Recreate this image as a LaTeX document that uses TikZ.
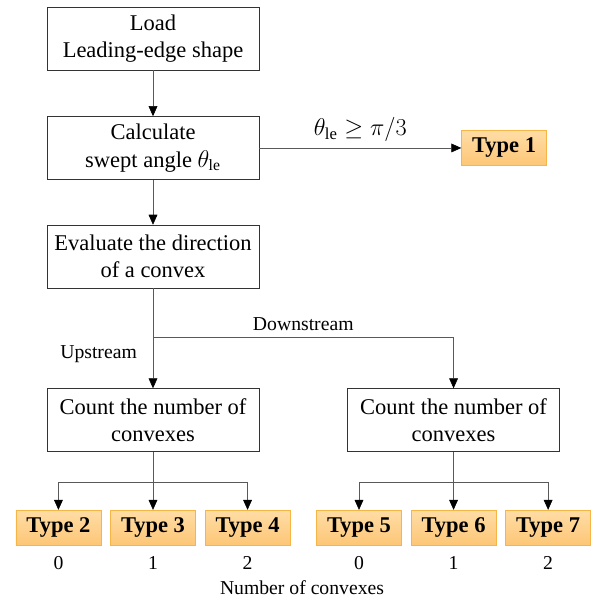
\documentclass[tikz,border=0pt]{standalone}
\usepackage{fontspec}
\setmainfont{Liberation Serif}
\usepackage{tikz}
\usetikzlibrary{positioning,arrows.meta}
\definecolor{typetop}{HTML}{FFDDA6}
\definecolor{typebot}{HTML}{FDC676}
\definecolor{typeline}{HTML}{F6B545}

\begin{document}
\begin{tikzpicture}[
  proc/.style={draw=black!80, minimum width=5.3cm, minimum height=1.575cm,
               align=center, inner sep=0pt,
               font=\fontsize{16}{19.5}\selectfont},
  typebox/.style={draw=typeline, top color=typetop, bottom color=typebot,
                  minimum width=2.125cm, minimum height=0.875cm, inner sep=0pt,
                  font=\fontsize{16}{19.5}\selectfont\bfseries},
  link/.style={draw=black!65, -{Triangle[length=2.5mm, width=2.2mm, color=black]}},
  lbl/.style={font=\fontsize{14}{17}\selectfont},
  ]
  \useasboundingbox (0,0) rectangle (14.85,-15);

  % main column
  \node[proc] (load) at (3.825,-0.96) {Load\\Leading-edge shape};
  \node[proc, below=1.15cm of load] (angle) {Calculate\\swept angle $\theta_{\mathrm{le}}$};
  \node[proc, below=1.125cm of angle] (dir) {Evaluate the direction\\of a convex};
  \node[proc, below=2.5cm of dir] (countup) {Count the number of\\convexes};
  \node[proc, right=2.2cm of countup] (countdown) {Count the number of\\convexes};

  \node[typebox, right=5.05cm of angle] (type1) {Type 1};

  % types by number of convexes
  \node[typebox, below=1.45cm of countup] (type3) {Type 3};
  \node[typebox, left=0.225cm of type3] (type2) {Type 2};
  \node[typebox, right=0.225cm of type3] (type4) {Type 4};
  \node[typebox, below=1.45cm of countdown] (type6) {Type 6};
  \node[typebox, left=0.225cm of type6] (type5) {Type 5};
  \node[typebox, right=0.225cm of type6] (type7) {Type 7};

  \foreach \t/\n in {2/0,3/1,4/2,5/0,6/1,7/2}
    \node[lbl] (num\t) at ([yshift=-0.45cm]type\t.south) {\n};
  \node[lbl] (axis) at (7.55,-14.7) {Number of convexes};

  % connectors
  \draw[link] (load) -- (angle);
  \draw[link] (angle) -- node[lbl, font=\fontsize{17}{20}\selectfont, above=1pt]
    {$\theta_{\mathrm{le}}\geq\pi/3$} (type1);
  \draw[link] (angle) -- (dir);
  \draw[link] (dir) -- node[lbl, pos=0.66, anchor=east, xshift=-0.28cm] {Upstream} (countup);
  \coordinate (split) at ([yshift=-1.225cm]dir.south);
  \draw[link] (split) -| node[lbl, pos=0.25, above=1pt] {Downstream} (countdown);

  \coordinate (forkup) at ([yshift=-0.75cm]countup.south);
  \coordinate (forkdown) at ([yshift=-0.75cm]countdown.south);
  \draw[draw=black!65] (countup) -- (forkup);
  \draw[draw=black!65] (countdown) -- (forkdown);
  \foreach \t in {2,3,4}
    \draw[link] (forkup) -| (type\t);
  \foreach \t in {5,6,7}
    \draw[link] (forkdown) -| (type\t);
\end{tikzpicture}
\end{document}
